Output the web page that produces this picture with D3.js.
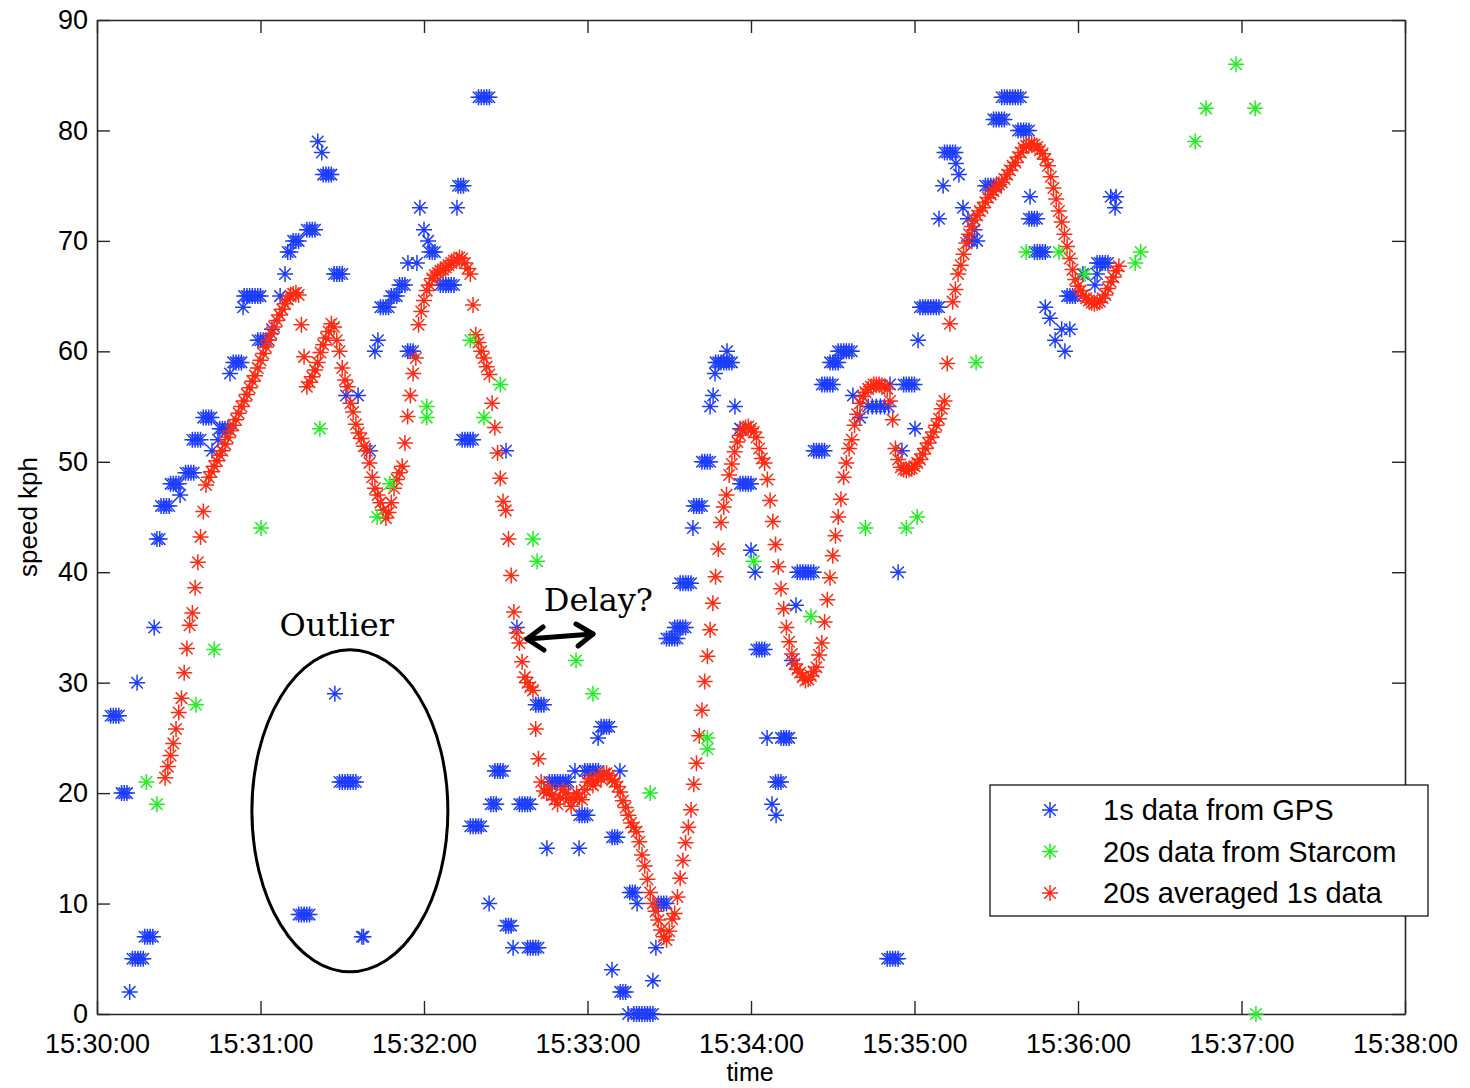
<!DOCTYPE html>
<html>
<head>
<meta charset="utf-8">
<script src="https://cdn.jsdelivr.net/npm/d3@7"></script>
<style>
  body { margin: 0; background: #fff; }
  svg { display: block; font-family: "Liberation Sans", Arial, sans-serif; }
</style>
</head>
<body>
<div id="chart"></div>
<script>
// seconds after 15:30:00, speed in kph
const gpsPoints = [
  [5,27],[6,27],[7,27],[8,27],[9,20],[10,20],[11,20],[12,2],
  [13,5],[14,5],[15,5],[16,5],[17,5],[14.7,30],[17.5,7],[18.5,7],[19.5,7],[20.5,7],
  [21,35],[22,43],[23,43],[23.5,46],[24.5,46],[25.5,46],[26.5,46],
  [27,48],[28,48],[29,48],[30,48],[30.5,47],[32.5,49],[33.5,49],[34.5,49],[35.5,49],
  [35,52],[36,52],[37,52],[38,52],[39,54],[40,54],[41,54],[42,54],[42.2,51],[44.4,52],
  [45,53],[46,53],[47,53],[48,53],[48.8,58],[50,59],[51,59],[52,59],[53,59],[53.6,64],
  [54,65],[55,65],[56,65],[57,65],[58,65],[59,65],[60,65],
  [59,61],[60,61],[61,61],[62,61],[63,61],[64.2,62],[67.2,65],[69,67],[70,69],[71,69],
  [72,70],[73,70],[74,70],[77,71],[78,71],[79,71],[80,71],[81,79],[82.5,78],
  [83,76],[84,76],[85,76],[86,76],[87,67],[88,67],[89,67],[90,67],
  [91.4,56],[95.8,56],[100.2,51],[103.1,61],[102,60],
  [104,64],[105,64],[106,64],[107,64],[108,65],[109,65],[110,65],[111,66],[112,66],[113,66],
  [114.1,68],[117.4,68],[114,60],[115,60],[116,60],[118.5,73],[120,71],[121.5,70],
  [122,69],[123,69],[124,69],[126,66],[127,66],[128,66],[129,66],[130,66],[131,66],
  [132.1,73],[132.5,75],[133.5,75],[134.5,75],[140,83],[141,83],[142,83],[143,83],[144,83],
  [134,52],[135,52],[136,52],[137,52],[138,52],[137,17],[138,17],[139,17],[140,17],[141,17],
  [143.9,10],[144.5,19],[145.5,19],[146.5,19],[146,22],[147,22],[148,22],[149,22],
  [150.1,51],[150,8],[151,8],[152,8],[152.7,6],[154.1,35],
  [155,19],[156,19],[157,19],[158,19],[159,19],[158,6],[159,6],[160,6],[161,6],[162,6],
  [161,28],[162,28],[163,28],[164,28],[165.1,15],
  [166,21],[167,21],[168,21],[169,21],[170,21],[171,21],[172,21],[173,21],
  [175.4,22],[176.9,15],[177,18],[178,18],[179,18],[180,18],
  [179,22],[180,22],[181,22],[182,22],[183,22],[184,22],[183.9,25],
  [185,26],[186,26],[187,26],[188,26],[191.9,22],[189,16],[190,16],[191,16],[189,4],
  [192,2],[193,2],[194,2],[194.9,0],[195.5,11],[196.5,11],[197.5,11],[198.2,10],
  [197,0],[198,0],[199,0],[200,0],[201,0],[202,0],[203,0],[204,0],[204,3],[205.1,6],
  [206,10],[207,10],[208,10],[209,10],
  [209,34],[210,34],[211,34],[212,34],[213,34],[212,35],[213,35],[214,35],[215,35],[216,35],
  [214,39],[215,39],[216,39],[217,39],[218,39],[218.7,44],
  [219,46],[220,46],[221,46],[222,46],[222,50],[223,50],[224,50],[225,50],
  [225,55],[226.1,56],[226.8,58],[227,59],[228,59],[229,59],[230,59],[231,59],[232,59],[233,59],
  [231.2,60],[234.1,55],[236,53],[236,48],[237,48],[238,48],[239,48],[240,48],
  [240,42],[241.5,40],[242,33],[243,33],[244,33],[245,33],[245.9,25],
  [249,21],[250,21],[251,21],[247.7,19],[249.2,18],[251,25],[252,25],[253,25],[254,25],
  [256.5,37],[255,32],[257,40],[258,40],[259,40],[260,40],[261,40],[262,40],[263,40],
  [263,51],[264,51],[265,51],[266,51],[267,51],[266,57],[267,57],[268,57],[269,57],[270,57],
  [269,59],[270,59],[271,59],[272,59],[272,60],[273,60],[274,60],[275,60],[276,60],[277,60],
  [277.4,56],[280,54],[283,55],[284.5,55],[286,55],[287.5,55],[289,55],[290.5,55],[291,57],
  [290,5],[291,5],[292,5],[293,5],[294,5],[294,40],[295.4,51],
  [296,57],[297,57],[298,57],[299,57],[300,57],[300.2,53],[301.3,61],
  [302,64],[303,64],[304,64],[305,64],[306,64],[307,64],[308,64],[309,64],
  [309,72],[310.5,75],[311,78],[312,78],[313,78],[314,78],[315,78],[315.2,77],[316.3,76],
  [317.8,73],[319.6,72],[320,70],[321,70],[322,71],[323,70],
  [326,75],[327,75],[328,75],[329,75],[330,75],[329,81],[330,81],[331,81],[332,81],[333,81],
  [332,83],[333,83],[334,83],[335,83],[336,83],[337,83],[338,83],[339,83],
  [338,80],[339,80],[340,80],[341,80],[342,80],[342.4,74],[342,72],[343,72],[344,72],[345,72],
  [344,69],[345,69],[346,69],[347,69],[348,69],[348,64],[349.7,63],[351.6,61],[354,62],[357,62],
  [355.2,60],[356,65],[357,65],[358,65],[359,65],[361.8,67],[366.2,66],[367,67],
  [367,68],[368,68],[369,68],[370,68],[371,68],[372,74],[374,74],[373.6,73],
  // outlier group
  [87.3,29],[89,21],[90,21],[91,21],[92,21],[93,21],[94,21],[95,21],
  [74,9],[75,9],[76,9],[77,9],[78,9],[97.2,7],[97.8,7]
];

const starcomPoints = [
  [18.1,21],[22,19],[36.3,28],[43,33],[60.2,44],[81.8,53],[102.8,45],[107.5,48],
  [121,55],[121,54],[137,61],[142,54],[148,57],[160,43],[161.5,41],[175.8,32],[182,29],
  [203,20],[224,25],[224,24],[241,41],[262,36],[282,44],[297,44],[301,45],[322.6,59],
  [341,69],[353,69],[362.6,67],[381,68],[383,69],[403,79],[407,82],[418,86],[425,82],[425.3,0]
];

// 20 s average of the 1 s data, one value per second from avgStart
const avgStart = 25;
const avgSpeed = [
  21.4,22.4,23.4,24.5,25.8,27.3,28.6,30.9,33.1,35.2,36.3,38.6,40.9,43.2,45.5,
  47.9,48.6,49.1,49.6,50.1,50.6,51.0,51.6,52.2,52.8,53.3,53.8,54.4,55.0,55.5,56.1,56.7,
  57.3,57.8,58.5,59.2,59.8,60.4,61.0,61.6,62.2,62.8,63.3,63.8,64.3,64.7,65.0,65.2,65.3,65.1,
  62.4,59.5,56.8,57.2,57.7,58.3,59.0,59.9,60.6,61.2,61.8,62.5,62.2,61.0,60.0,58.5,57.4,56.8,
  55.3,54.5,53.4,52.6,52.1,51.4,51.0,49.9,48.6,47.6,47.0,46.3,45.6,44.9,45.4,46.3,47.6,48.4,
  49.0,49.6,51.7,54.1,56.0,58.0,59.4,62.4,63.6,64.6,65.5,66.0,66.6,66.9,67.1,67.3,67.4,67.6,
  67.8,68.0,68.2,68.3,68.5,68.4,68.0,67.5,67.0,64.2,61.5,60.8,60.0,59.4,58.6,57.9,55.3,53.1,
  50.8,48.5,46.4,45.6,43.0,39.7,36.4,34.5,33.6,31.9,30.5,30.0,29.6,29.3,25.8,23.1,21.0,20.2,
  20.0,20.4,19.8,19.4,19.0,19.6,20.3,20.0,19.5,18.8,19.5,20.0,19.6,19.4,20.3,21.0,21.3,20.7,
  21.0,21.5,21.3,21.7,21.8,21.6,21.2,21.0,20.6,20.1,19.3,18.7,18.0,17.3,16.9,16.5,15.6,14.4,
  13.4,12.2,11.0,10.0,9.3,8.5,7.6,7.0,6.7,7.5,8.6,9.1,10.6,12.3,13.9,15.5,16.9,18.5,20.8,22.7,
  25.2,27.5,30.1,32.4,34.8,37.2,39.6,42.1,44.5,45.9,47.0,48.8,49.8,50.9,51.8,52.4,52.9,53.1,
  53.2,53.0,52.7,52.2,51.2,50.3,49.9,48.4,46.5,44.6,42.5,40.5,38.5,36.7,35.0,33.7,32.6,31.7,
  31.2,30.9,30.5,30.2,30.3,30.6,31.0,31.4,32.5,33.6,35.5,37.5,39.5,41.5,43.3,45.0,46.6,48.6,
  49.9,51.2,52.0,53.3,54.3,55.3,55.9,56.3,56.6,56.8,57.0,57.0,57.0,56.9,56.8,56.6,55.5,53.8,
  51.2,50.2,49.5,49.3,49.2,49.3,49.4,49.6,49.9,50.2,50.7,51.2,51.7,52.2,52.7,53.3,53.9,54.8,
  55.5,58.9,62.5,64.5,65.6,67.0,67.8,68.8,69.8,70.6,71.3,71.9,72.3,72.7,73.0,73.5,73.9,74.2,
  74.5,74.8,75.1,75.3,75.6,76.0,76.4,76.8,77.1,77.6,78.0,78.4,78.6,78.7,78.8,78.7,78.5,78.2,
  77.9,77.4,76.8,75.8,74.8,73.8,72.7,71.7,70.6,69.5,68.4,67.4,66.5,65.9,65.5,65.1,64.8,64.6,
  64.4,64.3,64.4,64.5,64.8,65.1,65.7,66.3,66.7,67.3,67.7
];

const xTickValues = [0, 60, 120, 180, 240, 300, 360, 420, 480];
const xTickLabels = ["15:30:00","15:31:00","15:32:00","15:33:00","15:34:00","15:35:00","15:36:00","15:37:00","15:38:00"];
const yTickValues = [0, 10, 20, 30, 40, 50, 60, 70, 80, 90];
const legendLabels = ["1s data from GPS", "20s data from Starcom", "20s averaged 1s data"];
const seriesColors = ["#1d3dfb", "#1ff01f", "#ff2a12"];

const width = 1470, height = 1088;
const svg = d3.select("#chart").append("svg")
    .attr("width", width)
    .attr("height", height);

const x = d3.scaleLinear().domain([0, 480]).range([97, 1405]);
const y = d3.scaleLinear().domain([0, 90]).range([1014, 20]);

// 星号标记 (MATLAB 的 '*')
function starPath(s){
    const d = s * 0.72;
    return `M${-s},0L${s},0M0,${-s}L0,${s}M${-d},${-d}L${d},${d}M${-d},${d}L${d},${-d}`;
}

// 坐标轴
const axisColor = "#262626";
svg.append("g")
    .attr("class", "xlabels")
    .attr("transform", "translate(0,1014)")
    .call(d3.axisBottom(x).tickValues(xTickValues)
        .tickFormat((d, i) => xTickLabels[i])
        .tickSizeInner(-13).tickSizeOuter(0).tickPadding(20));
svg.append("g")
    .attr("transform", "translate(0,20)")
    .call(d3.axisTop(x).tickValues(xTickValues).tickFormat("")
        .tickSizeInner(-13).tickSizeOuter(0));
svg.append("g")
    .attr("class", "ylabels")
    .attr("transform", "translate(97,0)")
    .call(d3.axisLeft(y).tickValues(yTickValues)
        .tickSizeInner(-13).tickSizeOuter(0).tickPadding(9));
svg.append("g")
    .attr("transform", "translate(1405,0)")
    .call(d3.axisRight(y).tickValues(yTickValues).tickFormat("")
        .tickSizeInner(-13).tickSizeOuter(0));
svg.selectAll(".domain").attr("stroke", axisColor).attr("stroke-width", 1.6);
svg.selectAll(".tick line").attr("stroke", axisColor).attr("stroke-width", 1.4);
svg.selectAll(".tick text").attr("fill", "#000")
    .style("font-family", "'Liberation Sans', Arial, sans-serif");
svg.selectAll(".xlabels .tick text").style("font-size", "27px");
svg.selectAll(".ylabels .tick text").style("font-size", "27px");

svg.append("text")
    .attr("x", 750).attr("y", 1081)
    .attr("text-anchor", "middle")
    .style("font-size", "25px")
    .text("time");
svg.append("text")
    .attr("transform", "translate(37,517) rotate(-90)")
    .attr("text-anchor", "middle")
    .style("font-size", "26px")
    .text("speed kph");

// 数据点
const avgPoints = avgSpeed.map((v, i) => [avgStart + i, v]);
const seriesList = [gpsPoints, avgPoints, starcomPoints];
const colorOrder = [seriesColors[0], seriesColors[2], seriesColors[1]];
seriesList.forEach(function (pts, k){
    svg.append("g")
        .selectAll("path")
        .data(pts)
        .join("path")
        .attr("transform", d => `translate(${x(d[0])},${y(d[1])})`)
        .attr("d", starPath(8))
        .attr("fill", "none")
        .attr("stroke", colorOrder[k])
        .attr("stroke-width", 1.5);
});

// 注释: Outlier 和 Delay?
svg.append("ellipse")
    .attr("cx", x(92.8)).attr("cy", y(18.4))
    .attr("rx", 98).attr("ry", 161)
    .attr("fill", "none").attr("stroke", "#000").attr("stroke-width", 3);
svg.append("text")
    .attr("x", x(88)).attr("y", 636)
    .attr("text-anchor", "middle")
    .style("font-family", "'DejaVu Serif', 'Liberation Serif', serif")
    .style("font-size", "32px")
    .text("Outlier");
svg.append("text")
    .attr("x", x(184)).attr("y", 611)
    .attr("text-anchor", "middle")
    .style("font-family", "'DejaVu Serif', 'Liberation Serif', serif")
    .style("font-size", "32px")
    .text("Delay?");
const arrow = svg.append("g")
    .attr("fill", "none").attr("stroke", "#000")
    .attr("stroke-width", 5).attr("stroke-linecap", "round").attr("stroke-linejoin", "round");
arrow.append("path").attr("d", "M527,639L593,634");
arrow.append("path").attr("d", "M543,627L527,639L544,650");
arrow.append("path").attr("d", "M576,624L593,634L578,646");

// 图例
const legend = svg.append("g");
legend.append("rect")
    .attr("x", 990).attr("y", 785).attr("width", 438).attr("height", 131)
    .attr("fill", "#fff").attr("stroke", "#000").attr("stroke-width", 1.2);
legendLabels.forEach(function (label, i){
    const ly = 810 + i * 41.5;
    legend.append("path")
        .attr("transform", `translate(1050,${ly})`)
        .attr("d", starPath(8))
        .attr("fill", "none")
        .attr("stroke", seriesColors[i])
        .attr("stroke-width", 1.5);
    legend.append("text")
        .attr("x", 1103).attr("y", ly + 10)
        .style("font-size", "29px")
        .text(label);
});
</script>
</body>
</html>
